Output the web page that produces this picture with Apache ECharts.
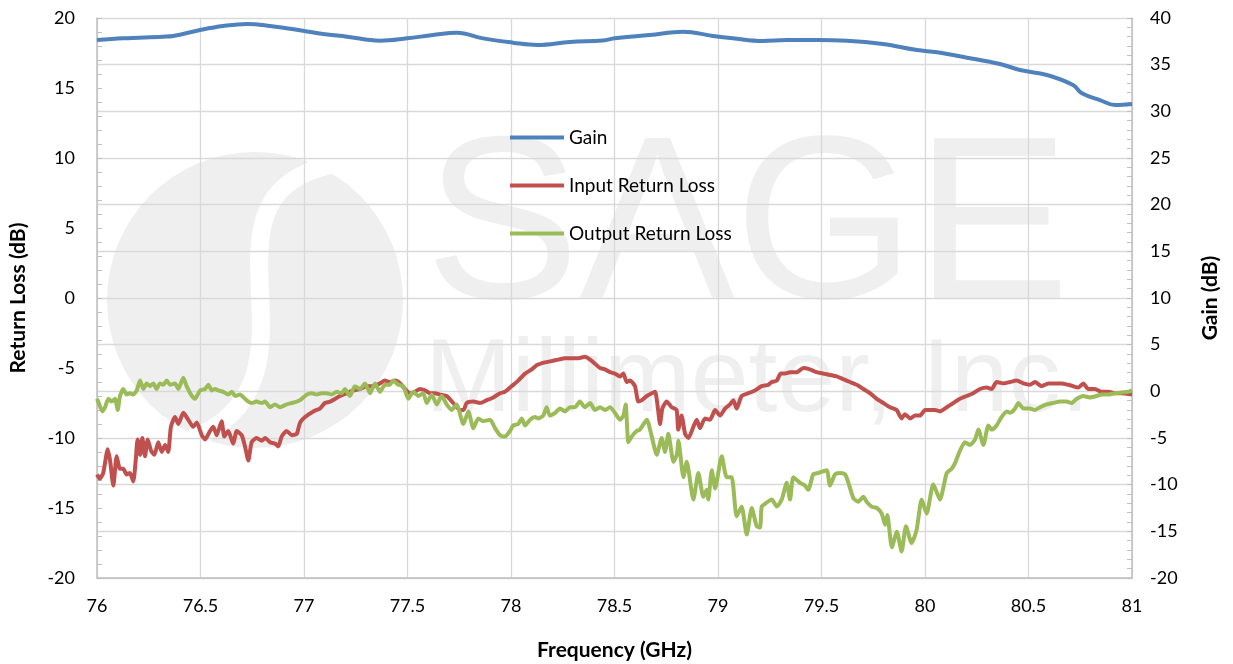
<!DOCTYPE html>
<html>
<head>
<meta charset="utf-8">
<script src="https://cdn.jsdelivr.net/npm/echarts@6/dist/echarts.min.js"></script>
<style>
html,body{margin:0;padding:0;background:#fff;}
#chart{width:1233px;height:664px;}
</style>
</head>
<body>
<div id="chart"></div>
<script>
// ---- Data ----
const seriesNames = ['Gain', 'Input Return Loss', 'Output Return Loss'];
const xTicks = [76, 76.5, 77, 77.5, 78, 78.5, 79, 79.5, 80, 80.5, 81];

const gainFreq = [76.000,76.126,76.319,76.367,76.498,76.609,76.725,76.836,76.995,77.092,77.208,77.367,77.498,77.623,77.739,77.865,78.010,78.126,78.285,78.444,78.502,78.671,78.831,78.976,79.072,79.217,79.333,79.478,79.623,79.797,79.961,80.058,80.203,80.362,80.459,80.589,80.715,80.758,80.845,80.918,81.000];
const gainVals = [37.64,37.82,38.0,38.07,38.71,39.14,39.36,39.14,38.64,38.29,38.0,37.57,37.82,38.18,38.43,37.82,37.36,37.11,37.43,37.60,37.82,38.18,38.54,38.07,37.82,37.54,37.64,37.64,37.57,37.21,36.57,36.32,35.75,35.07,34.43,33.89,32.82,31.93,31.21,30.68,30.79];

const inFreq = [76.000,76.014,76.030,76.052,76.063,76.079,76.095,76.111,76.127,76.143,76.159,76.175,76.187,76.196,76.208,76.219,76.232,76.245,76.261,76.277,76.296,76.313,76.329,76.344,76.357,76.377,76.393,76.417,76.441,76.465,76.482,76.506,76.522,76.546,76.562,76.578,76.602,76.615,76.634,76.658,76.675,76.699,76.715,76.731,76.747,76.771,76.796,76.812,76.836,76.860,76.876,76.892,76.916,76.941,76.965,76.981,77.005,77.045,77.077,77.101,77.126,77.174,77.206,77.238,77.271,77.303,77.335,77.367,77.391,77.415,77.440,77.464,77.488,77.512,77.536,77.560,77.585,77.609,77.633,77.657,77.689,77.721,77.737,77.754,77.770,77.786,77.818,77.850,77.883,77.915,77.947,77.971,78.003,78.035,78.068,78.100,78.124,78.164,78.197,78.229,78.261,78.293,78.325,78.357,78.382,78.406,78.430,78.454,78.478,78.502,78.527,78.543,78.559,78.575,78.599,78.615,78.632,78.656,78.680,78.696,78.709,78.720,78.731,78.752,78.776,78.800,78.808,78.824,78.841,78.857,78.881,78.897,78.913,78.937,78.961,78.986,79.010,79.034,79.058,79.074,79.090,79.114,79.147,79.179,79.211,79.243,79.260,79.284,79.303,79.324,79.348,79.380,79.412,79.444,79.477,79.509,79.541,79.573,79.605,79.638,79.670,79.702,79.734,79.767,79.799,79.831,79.863,79.887,79.903,79.928,79.952,79.976,80.000,80.024,80.048,80.072,80.105,80.137,80.169,80.201,80.233,80.266,80.298,80.322,80.346,80.378,80.411,80.443,80.475,80.507,80.531,80.564,80.596,80.628,80.660,80.692,80.716,80.740,80.765,80.789,80.821,80.853,80.885,80.918,80.950,81.000];
const inVals = [-12.6,-12.9,-12.5,-10.8,-11.6,-13.4,-11.3,-12.2,-12.2,-12.6,-12.5,-13.1,-11.6,-10.1,-11.2,-10.0,-11.3,-10.1,-10.9,-11.2,-10.3,-11.0,-10.5,-11.0,-9.2,-8.5,-9.0,-8.2,-8.7,-9.2,-8.9,-9.8,-10.1,-9.5,-9.2,-9.8,-8.8,-9.9,-9.5,-10.4,-9.5,-9.8,-10.6,-11.6,-10.3,-10.0,-10.2,-10.0,-10.3,-10.4,-10.6,-9.9,-9.5,-9.8,-9.7,-8.9,-8.5,-8.1,-7.9,-7.5,-7.4,-7.0,-6.8,-6.6,-6.5,-6.3,-6.3,-6.1,-5.9,-6.0,-5.9,-6.1,-6.5,-6.8,-6.7,-6.5,-6.6,-6.8,-6.8,-6.9,-7.0,-7.5,-7.8,-8.0,-8.0,-7.5,-7.4,-7.5,-7.3,-7.1,-6.8,-6.7,-6.3,-5.9,-5.4,-5.1,-4.8,-4.6,-4.5,-4.4,-4.3,-4.3,-4.3,-4.2,-4.4,-4.7,-5.0,-5.1,-5.3,-5.4,-5.6,-5.4,-6.0,-5.9,-6.3,-7.4,-7.3,-7.0,-6.8,-6.7,-7.8,-9.0,-7.9,-7.4,-7.8,-8.0,-9.4,-8.4,-9.7,-10.0,-9.2,-8.7,-9.3,-8.6,-8.7,-8.0,-8.4,-7.9,-7.6,-7.3,-7.9,-7.0,-6.8,-6.6,-6.3,-6.2,-6.0,-5.9,-5.4,-5.4,-5.3,-5.3,-5.0,-5.1,-5.3,-5.4,-5.5,-5.6,-5.8,-6.0,-6.2,-6.5,-6.8,-7.2,-7.5,-7.8,-8.0,-8.6,-8.3,-8.6,-8.4,-8.4,-8.0,-8.0,-8.0,-8.1,-7.8,-7.5,-7.2,-7.0,-6.8,-6.5,-6.4,-6.5,-6.0,-6.1,-6.0,-5.9,-6.1,-6.2,-6.0,-6.3,-6.1,-6.1,-6.1,-6.2,-6.3,-6.4,-6.1,-6.5,-6.5,-6.7,-6.7,-6.8,-6.8,-6.9];

const outFreq = [76.000,76.006,76.026,76.039,76.055,76.071,76.087,76.100,76.111,76.127,76.143,76.159,76.175,76.192,76.208,76.224,76.240,76.256,76.272,76.288,76.304,76.320,76.337,76.353,76.377,76.393,76.417,76.433,76.454,76.473,76.498,76.522,76.538,76.554,76.570,76.586,76.610,76.634,76.651,76.667,76.691,76.715,76.731,76.747,76.771,76.796,76.812,76.836,76.860,76.884,76.916,76.941,76.965,76.981,77.013,77.037,77.061,77.085,77.110,77.134,77.158,77.182,77.198,77.222,77.246,77.271,77.295,77.319,77.343,77.367,77.391,77.415,77.431,77.456,77.480,77.504,77.528,77.552,77.576,77.593,77.617,77.641,77.665,77.689,77.713,77.737,77.770,77.794,77.818,77.842,77.866,77.899,77.923,77.947,77.971,77.995,78.011,78.035,78.052,78.068,78.092,78.116,78.132,78.156,78.172,78.188,78.213,78.237,78.261,78.285,78.309,78.333,78.357,78.382,78.406,78.430,78.454,78.478,78.502,78.527,78.543,78.554,78.567,78.583,78.607,78.623,78.656,78.680,78.704,78.728,78.744,78.760,78.785,78.801,78.809,78.833,78.849,78.881,78.905,78.929,78.945,78.953,78.970,78.986,79.018,79.042,79.066,79.090,79.114,79.139,79.163,79.187,79.203,79.211,79.227,79.260,79.284,79.308,79.332,79.348,79.364,79.396,79.420,79.436,79.460,79.485,79.525,79.541,79.565,79.589,79.614,79.630,79.654,79.678,79.702,79.718,79.742,79.767,79.791,79.807,79.818,79.840,79.864,79.887,79.908,79.935,79.959,79.984,80.008,80.040,80.072,80.105,80.129,80.145,80.169,80.193,80.217,80.242,80.258,80.282,80.306,80.322,80.346,80.370,80.395,80.411,80.435,80.451,80.475,80.507,80.531,80.556,80.588,80.620,80.652,80.684,80.708,80.733,80.765,80.797,80.829,80.853,80.885,80.918,80.950,80.982,81.000];
const outVals = [-7.2,-7.4,-8.1,-7.8,-7.2,-7.4,-7.2,-8.0,-7.0,-6.5,-6.9,-6.8,-6.9,-6.6,-5.9,-6.5,-6.1,-6.3,-6.1,-6.5,-6.1,-6.2,-5.9,-6.2,-6.1,-6.5,-5.7,-6.3,-6.9,-7.2,-6.6,-6.5,-6.2,-6.6,-6.5,-6.6,-6.7,-6.9,-6.7,-7.0,-6.9,-7.2,-7.4,-7.5,-7.4,-7.5,-7.4,-7.8,-7.6,-7.8,-7.6,-7.5,-7.4,-7.3,-6.9,-6.8,-6.9,-6.8,-6.8,-6.9,-6.7,-6.8,-6.5,-7.0,-6.3,-6.5,-6.1,-6.8,-6.1,-6.7,-6.2,-6.2,-5.9,-6.2,-6.3,-7.2,-6.7,-7.0,-6.8,-7.5,-6.9,-7.6,-7.0,-7.6,-8.0,-7.6,-9.0,-8.1,-9.3,-8.6,-8.8,-8.7,-9.3,-9.8,-9.9,-9.5,-9.1,-9.0,-8.6,-9.1,-8.7,-8.5,-8.6,-8.4,-7.8,-8.4,-8.2,-7.9,-8.1,-7.8,-7.8,-7.4,-7.8,-7.5,-8.0,-7.8,-8.0,-7.8,-8.2,-8.7,-8.4,-7.6,-10.3,-9.9,-9.5,-9.4,-8.7,-9.9,-11.2,-10.0,-11.0,-9.7,-11.7,-11.2,-10.2,-12.8,-11.7,-14.4,-12.5,-14.2,-13.7,-14.4,-12.3,-13.6,-11.3,-12.8,-12.8,-15.6,-14.9,-16.9,-15.0,-16.3,-16.4,-14.9,-14.7,-14.4,-14.9,-14.4,-13.2,-14.4,-12.8,-13.2,-13.4,-13.7,-12.6,-12.5,-12.3,-13.4,-12.6,-12.5,-12.6,-13.2,-14.3,-14.55,-14.2,-14.55,-14.9,-15.0,-15.4,-16.2,-15.5,-17.8,-16.7,-18.1,-16.3,-17.5,-16.6,-14.4,-15.4,-13.3,-14.4,-12.5,-12.2,-11.8,-10.9,-10.3,-10.5,-10.1,-9.4,-10.5,-9.1,-9.4,-9.1,-8.5,-8.1,-8.2,-7.9,-7.5,-7.9,-7.9,-8.0,-7.8,-7.6,-7.5,-7.4,-7.4,-7.5,-7.2,-7.0,-7.1,-7.0,-6.9,-6.9,-6.8,-6.75,-6.7,-6.6];

function pairs(xs, ys){ return xs.map((x,i)=>[x, ys[i]]); }

const chart = echarts.init(document.getElementById('chart'), null, {renderer:'canvas'});
const FONT = 'Lato, "Liberation Sans", sans-serif';
const axisGray = '#bfbfbf';
const gridGray = '#d9d9d9';
const wm = '#efefef';

const option = {
  animation: false,
  backgroundColor: '#ffffff',
  textStyle: {fontFamily: FONT},
  grid: {left: 97, right: 101, top: 18, bottom: 86, containLabel: false, outerBoundsMode: 'none'},
  graphic: [
    {type:'circle', z:-10, shape:{cx:255, cy:300, r:148}, style:{fill:wm}},
    {type:'bezierCurve', z:-9, shape:{x1:330, y1:165, cpx1:180, cpy1:200, cpx2:340, cpy2:380, x2:190, y2:440}, style:{stroke:'#ffffff', lineWidth:18, fill:null}},
    {type:'text', z:-8, left:425, top:118, style:{text:'SAGE', fill:wm, font:'232px "Liberation Sans", sans-serif'}},
    {type:'text', z:-8, left:425, top:330, style:{text:'Millimeter, Inc.', fill:wm, font:'104px "Liberation Sans", sans-serif'}}
  ],
  legend: {
    orient: 'vertical',
    left: 505, top: 123,
    itemGap: 29,
    itemWidth: 54, itemHeight: 4,
    icon: 'rect',
    textStyle: {fontFamily: FONT, fontSize: 19, color: '#000'},
    data: seriesNames
  },
  xAxis: {
    type: 'value', min: 76, max: 81, interval: 0.5,
    name: 'Frequency (GHz)', nameLocation: 'middle', nameGap: 62,
    nameTextStyle: {fontFamily: FONT, fontSize: 21, fontWeight: 'bold', color: '#000'},
    axisLine: {show: true, onZero: false, lineStyle: {color: axisGray, width: 1.5}},
    axisTick: {show: false},
    axisLabel: {fontFamily: FONT, fontSize: 18, color: '#000', margin: 19},
    splitLine: {show: true, lineStyle: {color: gridGray, width: 1.3}}
  },
  yAxis: [
    {
      type: 'value', min: -20, max: 20, interval: 5, position: 'left',
      name: 'Return Loss (dB)', nameLocation: 'middle', nameGap: 68, nameRotate: 90,
      nameTextStyle: {fontFamily: FONT, fontSize: 21, fontWeight: 'bold', color: '#000'},
      axisLine: {show: true, onZero: false, lineStyle: {color: axisGray, width: 1.5}},
      axisTick: {show: true, inside: true, length: 5, lineStyle: {color: axisGray}},
      minorTick: {show: true, splitNumber: 5, length: 5, lineStyle: {color: axisGray}},
      axisLabel: {fontFamily: FONT, fontSize: 18, color: '#000', margin: 22},
      splitLine: {show: false}
    },
    {
      type: 'value', min: -20, max: 40, interval: 5, position: 'right',
      name: 'Gain (dB)', nameLocation: 'middle', nameGap: 68, nameRotate: 90,
      nameTextStyle: {fontFamily: FONT, fontSize: 21, fontWeight: 'bold', color: '#000'},
      axisLine: {show: true, onZero: false, lineStyle: {color: axisGray, width: 1.5}},
      axisTick: {show: true, inside: true, length: 5, lineStyle: {color: axisGray}},
      minorTick: {show: true, splitNumber: 5, length: 5, lineStyle: {color: axisGray}},
      axisLabel: {fontFamily: FONT, fontSize: 18, color: '#000', margin: 18},
      splitLine: {show: true, lineStyle: {color: gridGray, width: 1.3}}
    }
  ],
  series: [
    {name: seriesNames[0], type: 'line', yAxisIndex: 1, showSymbol: false, smooth: 0.4,
     data: pairs(gainFreq, gainVals), lineStyle: {color: '#4f81bd', width: 4}, itemStyle: {color: '#4f81bd'}},
    {name: seriesNames[1], type: 'line', yAxisIndex: 0, showSymbol: false, smooth: 0.2,
     data: pairs(inFreq, inVals), lineStyle: {color: '#c0504d', width: 4}, itemStyle: {color: '#c0504d'}},
    {name: seriesNames[2], type: 'line', yAxisIndex: 0, showSymbol: false, smooth: 0.2,
     data: pairs(outFreq, outVals), lineStyle: {color: '#9bbb59', width: 4}, itemStyle: {color: '#9bbb59'}}
  ]
};
chart.setOption(option);
</script>
</body>
</html>
